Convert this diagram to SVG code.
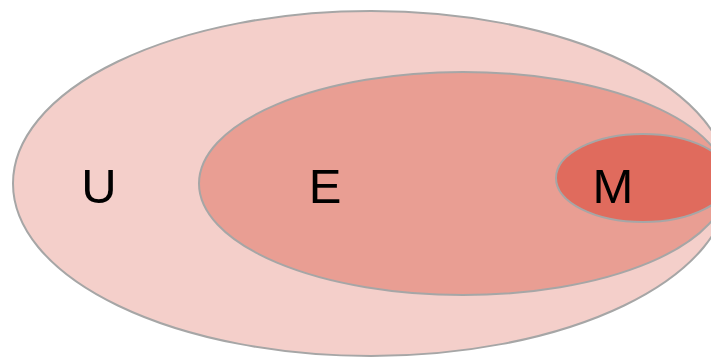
<svg xmlns="http://www.w3.org/2000/svg" width="711" height="357" viewBox="0 0 711 357">
<style>
.set{stroke:#A6A6A6;stroke-width:2}
.lbl{font-family:"Liberation Sans",Arial,sans-serif;font-size:49px;fill:#000;text-anchor:middle}
</style>
<rect width="711" height="357" fill="#fff"/>
<g id="U">
<ellipse class="set" cx="371" cy="183.5" rx="358" ry="172.5" fill="#F4CFCA"/>
<text class="lbl" x="99" y="203">U</text>
</g>
<g id="E">
<ellipse class="set" cx="463" cy="183.5" rx="264" ry="111.5" fill="#E99E93"/>
<text class="lbl" x="325" y="203">E</text>
</g>
<g id="M">
<ellipse class="set" cx="643" cy="178" rx="87" ry="44" fill="#E06B5D"/>
<text class="lbl" x="613" y="203">M</text>
</g>
<g id="connectors"/>
</svg>
